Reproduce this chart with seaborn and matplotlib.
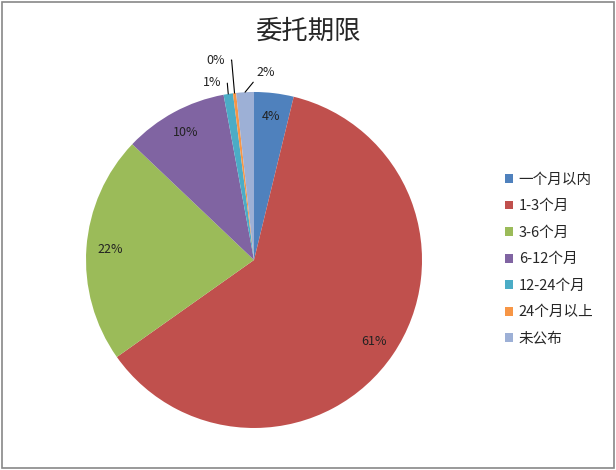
import matplotlib
matplotlib.use("Agg")
import matplotlib.pyplot as plt
import numpy as np
import seaborn as sns
from matplotlib.patches import Rectangle

sns.set_style("white")
plt.rcParams['font.family'] = ['Noto Sans CJK SC', 'DejaVu Sans']

# datos (en %)
categorias = ["一个月以内", "1-3个月", "3-6个月", "6-12个月", "12-24个月", "24个月以上", "未公布"]
valores = [3.8, 61.4, 21.9, 10.0, 0.9, 0.3, 1.7]
colores = ["#4F81BD", "#C0504D", "#9BBB59", "#8064A2", "#4BACC6", "#F79646", "#9DB0D6"]
etiquetas = ["4%", "61%", "22%", "10%", "1%", "0%", "2%"]

fig = plt.figure(figsize=(6.16, 4.70), dpi=100)
ax = fig.add_axes([0.1396, 0.0894, 0.5455, 0.7149])

wedges, _ = ax.pie(valores, colors=colores, startangle=90, counterclock=False,
                   radius=1, wedgeprops=dict(linewidth=0))
ax.set_xlim(-1, 1)
ax.set_ylim(-1, 1)
ax.set_aspect("equal")
ax.axis("off")

# etiquetas dentro de las porciones grandes
for w, txt in zip(wedges[:4], etiquetas[:4]):
    ang = np.deg2rad((w.theta1 + w.theta2) / 2)
    ax.text(0.86 * np.cos(ang), 0.86 * np.sin(ang), txt, ha="center", va="center",
            fontsize=9, color="#222222")

# etiquetas con línea guía para las porciones chicas
pos_texto = {4: (-0.25, 1.054), 5: (-0.226, 1.19), 6: (0.07, 1.113)}
for i, (tx, ty) in pos_texto.items():
    w = wedges[i]
    ang = np.deg2rad((w.theta1 + w.theta2) / 2)
    punta = (np.cos(ang), np.sin(ang))
    if i == 6:
        props = dict(arrowstyle="-", color="black", lw=0.8, relpos=(0.0, 0.1),
                     shrinkA=0, shrinkB=0)
    else:
        props = dict(arrowstyle="-", color="black", lw=0.8, relpos=(1.0, 0.5),
                     connectionstyle="angle,angleA=0,angleB=95,rad=0", shrinkA=2, shrinkB=0)
    ax.annotate(etiquetas[i], xy=punta, xytext=(tx, ty), ha="center", va="center",
                fontsize=9, color="#222222", arrowprops=props, annotation_clip=False)

fig.text(0.5, 0.934, "委托期限", ha="center", va="center", fontsize=19)

fig.legend(wedges, categorias, loc="upper left", bbox_to_anchor=(0.81, 0.645),
           frameon=False, fontsize=10.5, handlelength=0.55, handleheight=0.55,
           handletextpad=0.4, labelspacing=0.86, borderaxespad=0)

fig.patches.append(Rectangle((0.003, 0.004), 0.994, 0.992, transform=fig.transFigure,
                             fill=False, edgecolor="#888888", linewidth=1.2))

fig.savefig("out.png", dpi=100)
